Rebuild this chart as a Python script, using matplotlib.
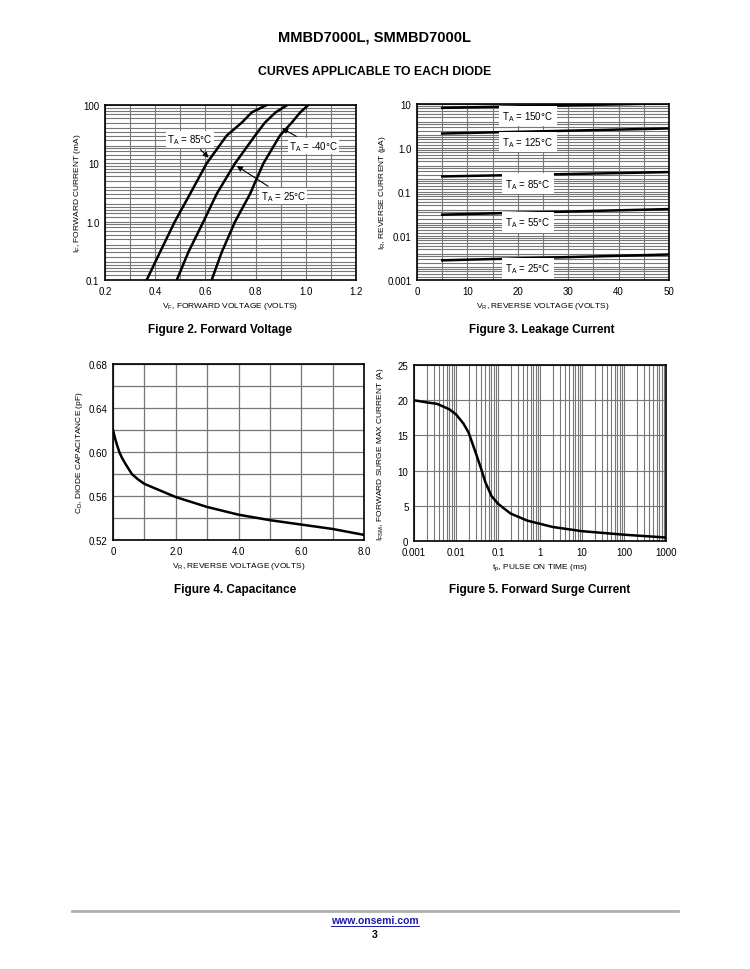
import numpy as np
import matplotlib
matplotlib.use("Agg")
import matplotlib.pyplot as plt
from matplotlib.ticker import FixedLocator, NullFormatter

plt.rcParams['font.family'] = ['Liberation Sans Narrow', 'Liberation Sans', 'DejaVu Sans']
plt.rcParams['mathtext.default'] = 'regular'

# Figure 2 - forward voltage (V) vs forward current (mA)
vf_85 = [0.366, 0.419, 0.478, 0.539, 0.605, 0.685, 0.745, 0.785, 0.844]
if_85 = [0.1, 0.3, 1.0, 3.0, 10, 30, 50, 75, 100]
vf_25 = [0.486, 0.532, 0.592, 0.645, 0.718, 0.798, 0.837, 0.880, 0.926]
if_25 = [0.1, 0.3, 1.0, 3.0, 10, 30, 50, 75, 100]
vf_m40 = [0.625, 0.665, 0.718, 0.778, 0.831, 0.897, 0.944, 0.978, 1.010]
if_m40 = [0.1, 0.3, 1.0, 3.0, 10, 30, 50, 75, 100]

# Figure 3 - reverse current (uA) at VR = 5 and 50 V
vr_leak = [5, 50]
ir_150 = [8.2, 10.4]
ir_125 = [2.14, 2.79]
ir_85 = [0.226, 0.284]
ir_55 = [0.0306, 0.041]
ir_25 = [0.0028, 0.0038]

# Figure 4 - capacitance (pF) vs reverse voltage
vr_cap = [0.0, 0.06, 0.12, 0.2, 0.28, 0.4, 0.6, 0.8, 1.0, 1.5, 2.0, 3.0, 4.0, 5.0, 6.0, 7.0, 8.0]
cd = [0.620, 0.613, 0.607, 0.600, 0.595, 0.589, 0.580, 0.575, 0.571, 0.565, 0.559,
      0.550, 0.543, 0.538, 0.534, 0.530, 0.5246]

# Figure 5 - surge current (A) vs pulse time (ms)
tp = [0.001, 0.002, 0.0035, 0.005, 0.007, 0.01, 0.015, 0.02, 0.03, 0.04, 0.05, 0.07,
      0.1, 0.2, 0.5, 1, 2, 10, 100, 1000]
ifsm = [20.0, 19.7, 19.5, 19.1, 18.7, 18.0, 16.7, 15.4, 12.4, 10.2, 8.35, 6.4,
        5.3, 3.9, 2.9, 2.45, 2.0, 1.4, 0.9, 0.5]

GRID = '#777777'
tick_fs = 7
lab_fs = 6.0
ann_fs = 7

fig = plt.figure(figsize=(7.5, 9.7), dpi=100)

def frame(ax):
    for s in ax.spines.values():
        s.set_linewidth(1.2)
        s.set_color('black')
    ax.tick_params(length=0, labelsize=tick_fs, pad=4)
    ax.set_axisbelow(True)

dense_minor = []
for dec in [0.001, 0.01, 0.1, 1, 10]:
    for m in [1.2, 1.4, 1.6, 1.8, 2, 2.5, 3, 3.5, 4, 5, 6, 7, 8, 9]:
        dense_minor.append(dec * m)

bold = ['Liberation Sans', 'DejaVu Sans']

# ---------- Figure 2 ----------
ax2 = fig.add_axes([0.140, 0.7103, 0.3347, 0.1804])
frame(ax2)
ax2.set_yscale('log')
ax2.set_xlim(0.2, 1.2)
ax2.set_ylim(0.1, 100)
ax2.set_xticks([0.2, 0.4, 0.6, 0.8, 1.0, 1.2])
ax2.set_xticklabels(['0.2', '0.4', '0.6', '0.8', '1.0', '1.2'])
ax2.set_yticks([0.1, 1, 10, 100])
ax2.set_yticklabels(['0.1', '1.0', '10', '100'])
ax2.yaxis.set_minor_locator(FixedLocator([v for v in dense_minor if 0.1 < v < 100]))
ax2.yaxis.set_minor_formatter(NullFormatter())
ax2.xaxis.set_minor_locator(FixedLocator(np.arange(0.3, 1.2, 0.2)))
ax2.tick_params(which='minor', length=0)
ax2.grid(True, which='both', color=GRID, lw=0.8)
ax2.plot(vf_85, if_85, color='black', lw=1.8)
ax2.plot(vf_25, if_25, color='black', lw=1.8)
ax2.plot(vf_m40, if_m40, color='black', lw=1.8)
ax2.set_xlabel('$V_F$, FORWARD VOLTAGE (VOLTS)', fontsize=lab_fs, labelpad=3)
ax2.set_ylabel('$I_F$, FORWARD CURRENT (mA)', fontsize=lab_fs)
ax2.yaxis.set_label_coords(-0.086, 0.5)
arw = dict(arrowstyle='-|>', color='black', lw=0.8, mutation_scale=8, shrinkA=2, shrinkB=0)
bb = dict(fc='white', ec='none', pad=1.0)
ax2.annotate('$T_A$ = 85°C', xy=(0.613, 12.5), xytext=(0.539, 25.8), fontsize=ann_fs,
             ha='center', va='center', bbox=bb, arrowprops=arw)
ax2.annotate('$T_A$ = 25°C', xy=(0.725, 9.0), xytext=(0.91, 2.75), fontsize=ann_fs,
             ha='center', va='center', bbox=bb, arrowprops=arw)
ax2.annotate('$T_A$ = -40°C', xy=(0.905, 40), xytext=(1.03, 19.8), fontsize=ann_fs,
             ha='center', va='center', bbox=bb, arrowprops=arw)
fig.text(0.293, 0.660, 'Figure 2. Forward Voltage', ha='center', va='center',
         fontsize=8.5, fontweight='bold', family=bold)

# ---------- Figure 3 ----------
ax3 = fig.add_axes([0.556, 0.7103, 0.336, 0.1814])
frame(ax3)
ax3.set_yscale('log')
ax3.set_xlim(0, 50)
ax3.set_ylim(0.001, 10)
ax3.set_xticks([0, 10, 20, 30, 40, 50])
ax3.set_yticks([0.001, 0.01, 0.1, 1, 10])
ax3.set_yticklabels(['0.001', '0.01', '0.1', '1.0', '10'])
ax3.yaxis.set_minor_locator(FixedLocator([v for v in dense_minor if 0.001 < v < 10]))
ax3.yaxis.set_minor_formatter(NullFormatter())
ax3.xaxis.set_minor_locator(FixedLocator([5, 15, 25, 35, 45]))
ax3.tick_params(which='minor', length=0)
ax3.grid(True, which='both', color=GRID, lw=0.8)
for ir in [ir_150, ir_125, ir_85, ir_55, ir_25]:
    ax3.plot(vr_leak, ir, color='black', lw=1.8)
for txt, yv in [('150', 5.3), ('125', 1.38), ('85', 0.154), ('55', 0.0204), ('25', 0.00185)]:
    ax3.text(22, yv, '$T_A$ = ' + txt + '°C', fontsize=ann_fs, ha='center', va='center',
             bbox=dict(fc='white', ec='none', boxstyle='square,pad=0.35'))
ax3.set_xlabel('$V_R$, REVERSE VOLTAGE (VOLTS)', fontsize=lab_fs, labelpad=3)
ax3.set_ylabel('$I_R$, REVERSE CURRENT (μA)', fontsize=lab_fs)
ax3.yaxis.set_label_coords(-0.115, 0.5)
fig.text(0.722, 0.660, 'Figure 3. Leakage Current', ha='center', va='center',
         fontsize=8.5, fontweight='bold', family=bold)

# ---------- Figure 4 ----------
ax4 = fig.add_axes([0.1507, 0.4423, 0.3347, 0.1814])
frame(ax4)
ax4.set_xlim(0, 8)
ax4.set_ylim(0.52, 0.68)
ax4.set_xticks([0, 2, 4, 6, 8])
ax4.set_xticklabels(['0', '2.0', '4.0', '6.0', '8.0'])
ax4.set_yticks([0.52, 0.56, 0.60, 0.64, 0.68])
ax4.set_yticklabels(['0.52', '0.56', '0.60', '0.64', '0.68'])
ax4.xaxis.set_minor_locator(FixedLocator([1, 3, 5, 7]))
ax4.yaxis.set_minor_locator(FixedLocator([0.54, 0.58, 0.62, 0.66]))
ax4.tick_params(which='minor', length=0)
ax4.grid(True, which='both', color=GRID, lw=0.9)
ax4.plot(vr_cap, cd, color='black', lw=1.8)
ax4.set_xlabel('$V_R$, REVERSE VOLTAGE (VOLTS)', fontsize=lab_fs, labelpad=3)
ax4.set_ylabel('$C_D$, DIODE CAPACITANCE (pF)', fontsize=lab_fs)
ax4.yaxis.set_label_coords(-0.112, 0.5)
fig.text(0.313, 0.392, 'Figure 4. Capacitance', ha='center', va='center',
         fontsize=8.5, fontweight='bold', family=bold)

# ---------- Figure 5 ----------
ax5 = fig.add_axes([0.552, 0.4412, 0.336, 0.1814])
frame(ax5)
ax5.set_xscale('log')
ax5.set_xlim(0.001, 1000)
ax5.set_ylim(0, 25)
ax5.set_xticks([0.001, 0.01, 0.1, 1, 10, 100, 1000])
ax5.set_xticklabels(['0.001', '0.01', '0.1', '1', '10', '100', '1000'])
ax5.set_yticks([0, 5, 10, 15, 20, 25])
ax5.xaxis.set_minor_formatter(NullFormatter())
ax5.tick_params(which='minor', length=0)
ax5.grid(True, which='both', color=GRID, lw=0.8)
ax5.plot(tp, ifsm, color='black', lw=1.8)
ax5.set_xlabel('$t_p$, PULSE ON TIME (ms)', fontsize=lab_fs, labelpad=3)
ax5.set_ylabel('$I_{FSM}$, FORWARD SURGE MAX CURRENT (A)', fontsize=lab_fs)
ax5.yaxis.set_label_coords(-0.113, 0.5)
fig.text(0.720, 0.392, 'Figure 5. Forward Surge Current', ha='center', va='center',
         fontsize=8.5, fontweight='bold', family=bold)

# ---------- page text ----------
fig.text(0.5, 0.961, 'MMBD7000L, SMMBD7000L', ha='center', va='center',
         fontsize=10.5, fontweight='bold', family=bold)
fig.text(0.5, 0.926, 'CURVES APPLICABLE TO EACH DIODE', ha='center', va='center',
         fontsize=8.8, fontweight='bold', family=bold)
fig.add_artist(plt.Line2D([0.096, 0.904], [0.0598, 0.0598], color='#b0b0b0', lw=2.0))
fig.text(0.5, 0.0505, 'www.onsemi.com', ha='center', va='center', color='#1a1aa6',
         fontsize=7.5, fontweight='bold', family=bold)
fig.add_artist(plt.Line2D([0.4415, 0.5585], [0.0445, 0.0445], color='#1a1aa6', lw=0.7))
fig.text(0.5, 0.0362, '3', ha='center', va='center',
         fontsize=7.5, fontweight='bold', family=bold)

fig.savefig('out.png', dpi=100)
